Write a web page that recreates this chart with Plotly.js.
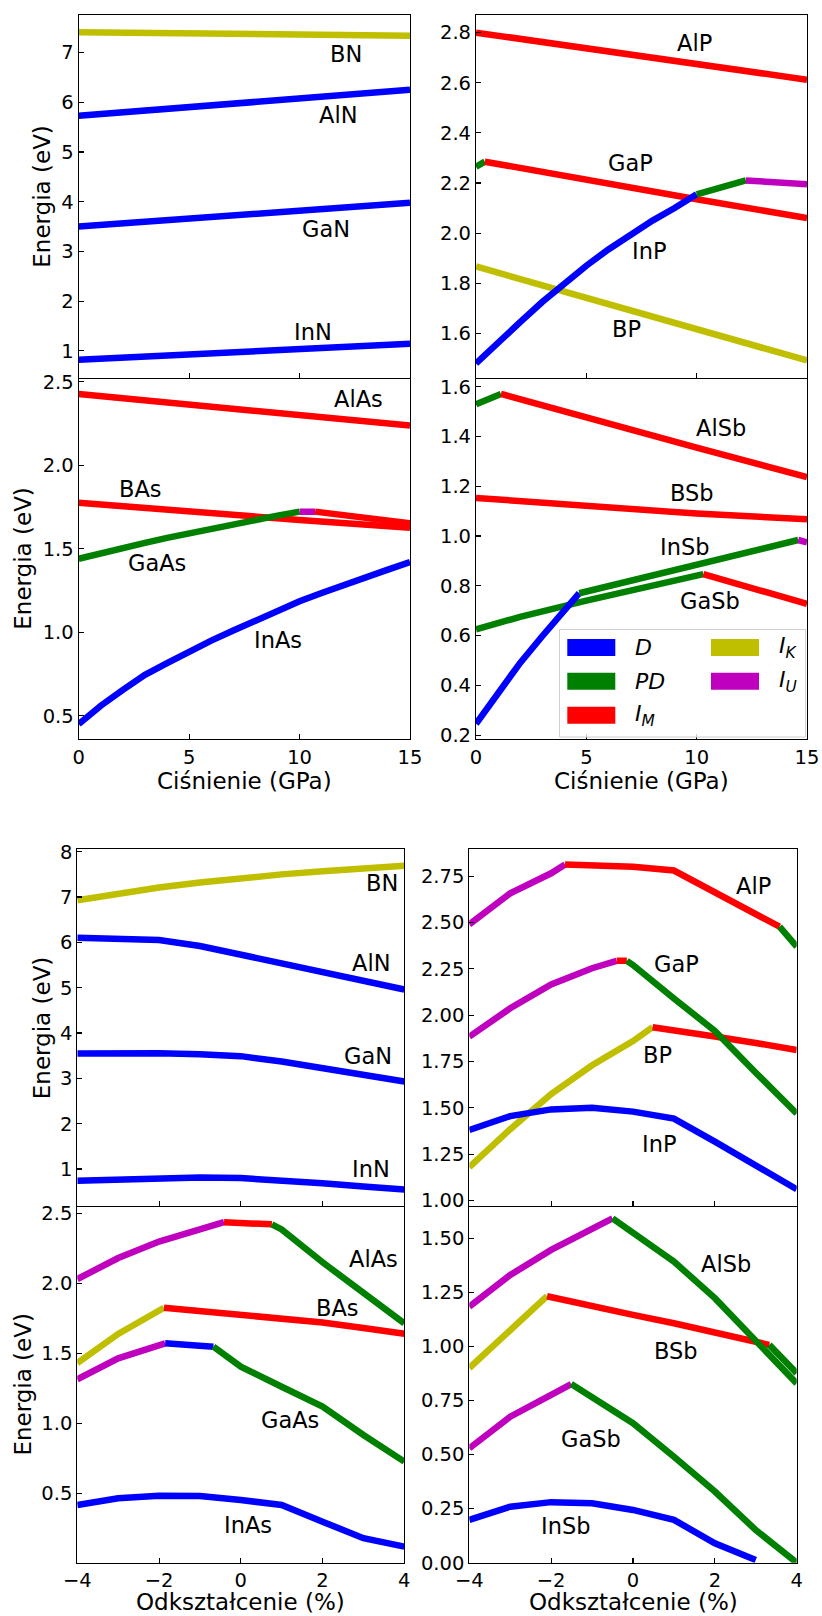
<!DOCTYPE html>
<html><head><meta charset="utf-8">
<script src="https://cdn.plot.ly/plotly-3.0.1.min.js"></script>
<style>html,body{margin:0;padding:0;background:#fff}#chart{width:822px;height:1616px}</style>
</head><body><div id="chart"></div>
<script>
// ---------- band-type colours ----------
const COLORS = {D:'#0000ff', PD:'#008000', M:'#ff0000', K:'#bfbf00', U:'#bf00bf'};

// ---------- Pressure (GPa) : nitrides ----------
const pN_BN_x  = [0,5,10,15];   const pN_BN_y  = [7.41,7.39,7.365,7.34]; const pN_BN_t  = ['K','K','K'];
const pN_AlN_x = [0,5,10,15];   const pN_AlN_y = [5.73,5.91,6.08,6.25];  const pN_AlN_t = ['D','D','D'];
const pN_GaN_x = [0,5,10,15];   const pN_GaN_y = [3.50,3.66,3.82,3.98];  const pN_GaN_t = ['D','D','D'];
const pN_InN_x = [0,5,10,15];   const pN_InN_y = [0.82,0.93,1.04,1.14];  const pN_InN_t = ['D','D','D'];

// ---------- Pressure : phosphides ----------
const pP_BP_x  = [0,5,10,15];   const pP_BP_y  = [1.867,1.742,1.617,1.492]; const pP_BP_t = ['K','K','K'];
const pP_AlP_x = [0,5,10,15];   const pP_AlP_y = [2.80,2.737,2.674,2.612];  const pP_AlP_t = ['M','M','M'];
const pP_GaP_x = [0,0.4,5,10,15]; const pP_GaP_y = [2.265,2.285,2.21,2.135,2.06]; const pP_GaP_t = ['PD','M','M','M'];
const pP_InP_x = [0,1,2,3,4,5,6,7,8,9,10,12.23,15];
const pP_InP_y = [1.48,1.565,1.645,1.725,1.80,1.87,1.935,1.995,2.05,2.10,2.155,2.21,2.195];
const pP_InP_t = ['D','D','D','D','D','D','D','D','D','D','PD','U'];

// ---------- Pressure : arsenides ----------
const pA_BAs_x  = [0,5,10,15];  const pA_BAs_y  = [1.775,1.72,1.672,1.625]; const pA_BAs_t = ['M','M','M'];
const pA_AlAs_x = [0,5,10,15];  const pA_AlAs_y = [2.426,2.363,2.30,2.237]; const pA_AlAs_t = ['M','M','M'];
const pA_GaAs_x = [0,1,2,3,4,5,6,7,8,9,10,10.7,12,15];
const pA_GaAs_y = [1.44,1.475,1.505,1.535,1.565,1.593,1.62,1.647,1.673,1.698,1.722,1.722,1.70,1.652];
const pA_GaAs_t = ['PD','PD','PD','PD','PD','PD','PD','PD','PD','PD','U','M','M'];
const pA_InAs_x = [0,1,2,3,4,5,6,7,8,9,10,11,12,13,14,15];
const pA_InAs_y = [0.45,0.56,0.655,0.745,0.815,0.885,0.95,1.01,1.07,1.13,1.185,1.235,1.285,1.33,1.375,1.42];
const pA_InAs_t = ['D','D','D','D','D','D','D','D','D','D','D','D','D','D','D'];

// ---------- Pressure : antimonides ----------
const pS_BSb_x  = [0,5,10,15];  const pS_BSb_y  = [1.153,1.122,1.09,1.067]; const pS_BSb_t = ['M','M','M'];
const pS_AlSb_x = [0,1.13,5,10,15]; const pS_AlSb_y = [1.529,1.571,1.475,1.355,1.237]; const pS_AlSb_t = ['PD','M','M','M'];
const pS_GaSb_x = [0,2,5,10.3,15]; const pS_GaSb_y = [0.625,0.675,0.74,0.847,0.727]; const pS_GaSb_t = ['PD','PD','PD','M'];
const pS_InSb_x = [0,1,2,3,4,4.68,14.6,15];
const pS_InSb_y = [0.245,0.37,0.49,0.597,0.695,0.77,0.984,0.975];
const pS_InSb_t = ['D','D','D','D','D','PD','U'];

// ---------- Strain (%) : nitrides ----------
const strain = [-4,-3,-2,-1,0,1,2,3,4];
const sN_BN_y  = [6.93,7.08,7.21,7.32,7.42,7.50,7.57,7.64,7.69];
const sN_AlN_y = [6.10,6.09,6.05,5.92,5.73,5.53,5.34,5.15,4.96];
const sN_GaN_y = [3.55,3.565,3.555,3.53,3.49,3.37,3.23,3.08,2.93];
const sN_InN_y = [0.74,0.775,0.80,0.81,0.80,0.755,0.685,0.615,0.55];
const sN_BN_t  = ['K','K','K','K','K','K','K','K'];
const sN_D_t   = ['D','D','D','D','D','D','D','D'];

// ---------- Strain : phosphides ----------
const sP_BP_x  = [-4,-3,-2,-1,0,0.48,1,2,3,4];
const sP_BP_y  = [1.18,1.385,1.575,1.73,1.86,1.935,1.92,1.885,1.85,1.812];
const sP_BP_t  = ['K','K','K','K','K','M','M','M','M'];
const sP_AlP_x = [-4,-3,-2,-1.66,-1,0,1,2,3,3.58,4];
const sP_AlP_y = [2.49,2.657,2.765,2.813,2.81,2.80,2.78,2.66,2.545,2.477,2.369];
const sP_AlP_t = ['U','U','U','M','M','M','M','M','M','PD'];
const sP_GaP_x = [-4,-3,-2,-1,-0.4,-0.15,0,1,2,3,4];
const sP_GaP_y = [1.884,2.037,2.166,2.253,2.293,2.293,2.27,2.09,1.915,1.69,1.47];
const sP_GaP_t = ['U','U','U','U','M','PD','PD','PD','PD','PD'];
const sP_InP_y = [1.381,1.456,1.492,1.501,1.48,1.442,1.318,1.192,1.061];

// ---------- Strain : arsenides ----------
const sA_BAs_x  = [-4,-3,-1.88,-1,0,1,2,3,4];
const sA_BAs_y  = [1.43,1.638,1.825,1.80,1.777,1.75,1.72,1.68,1.64];
const sA_BAs_t  = ['K','K','M','M','M','M','M','M'];
const sA_AlAs_x = [-4,-3,-2,-1,-0.41,0,0.76,1,2,3,4];
const sA_AlAs_y = [2.03,2.18,2.298,2.385,2.436,2.432,2.421,2.385,2.15,1.93,1.714];
const sA_AlAs_t = ['U','U','U','U','M','M','PD','PD','PD','PD'];
const sA_GaAs_x = [-4,-3,-1.85,-1,-0.67,0,1,2,3,4];
const sA_GaAs_y = [1.314,1.464,1.571,1.557,1.547,1.404,1.261,1.119,0.916,0.726];
const sA_GaAs_t = ['U','U','D','D','PD','PD','PD','PD','PD'];
const sA_InAs_y = [0.416,0.464,0.483,0.48,0.452,0.416,0.297,0.179,0.119];

// ---------- Strain : antimonides ----------
const sS_BSb_x  = [-4,-3,-2.1,-1,0,1,2,3,3.33,4];
const sS_BSb_y  = [0.90,1.077,1.232,1.184,1.146,1.107,1.064,1.018,1.007,0.876];
const sS_BSb_t  = ['K','K','M','M','M','M','M','M','PD'];
const sS_AlSb_x = [-4,-3,-2,-1,-0.5,1,2,3,4];
const sS_AlSb_y = [1.184,1.33,1.446,1.546,1.592,1.392,1.223,1.026,0.829];
const sS_AlSb_t = ['U','U','U','U','PD','PD','PD','PD'];
const sS_GaSb_x = [-4,-3,-2,-1.51,0,1,2,3,4];
const sS_GaSb_y = [0.529,0.675,0.776,0.826,0.645,0.49,0.329,0.151,0.0];
const sS_GaSb_t = ['U','U','U','PD','PD','PD','PD','PD'];
const sS_InSb_x = [-4,-3,-2,-1,0,1,2,3];
const sS_InSb_y = [0.198,0.259,0.28,0.275,0.244,0.198,0.09,0.013];
const sS_InSb_t = ['D','D','D','D','D','D','D'];

// ---------- labels ----------
const legendNames = ['D','PD','M','K','U'];
const legendText  = {D:'<i>D</i>', PD:'<i>PD</i>', M:'<i>I</i><sub><i>M</i></sub>', K:'<i>I</i><sub><i>K</i></sub>', U:'<i>I</i><sub><i>U</i></sub>'};
const yTitle = 'Energia (eV)';
const xTitleP = 'Ciśnienie (GPa)';
const xTitleS = 'Odkształcenie (%)';

// label positions (data coordinates)
const labels = [
  [1,'BN',12.1,6.99],[1,'AlN',11.75,5.77],[1,'GaN',11.18,3.48],[1,'InN',10.62,1.39],
  [2,'AlP',9.89,2.764],[2,'GaP',7.02,2.285],[2,'InP',7.85,1.933],[2,'BP',6.8,1.62],
  [3,'AlAs',12.66,2.40],[3,'BAs',2.78,1.862],[3,'GaAs',3.53,1.422],[3,'InAs',9.04,0.957],
  [4,'AlSb',11.1,1.44],[4,'BSb',9.79,1.178],[4,'InSb',9.47,0.96],[4,'GaSb',10.6,0.743],
  [5,'BN',3.45,7.34],[5,'AlN',3.19,5.57],[5,'GaN',3.12,3.51],[5,'InN',3.19,1.02],
  [6,'AlP',2.94,2.702],[6,'GaP',1.07,2.279],[6,'BP',0.6,1.789],[6,'InP',0.64,1.31],
  [7,'AlAs',3.24,2.179],[7,'BAs',2.37,1.833],[7,'GaAs',1.2,1.029],[7,'InAs',0.18,0.279],
  [8,'AlSb',2.27,1.384],[8,'BSb',1.05,0.984],[8,'GaSb',-1.03,0.575],[8,'InSb',-1.64,0.175]
];

// ---------- build traces ----------
const traces = [];
function addCurve(p, x, y, t){
  let s = 0;
  for (let i = 1; i <= t.length; i++){
    if (i === t.length || t[i] !== t[s]){
      traces.push({type:'scatter', mode:'lines', x:x.slice(s,i+1), y:y.slice(s,i+1),
        xaxis:'x'+p, yaxis:'y'+p, showlegend:false, hoverinfo:'skip',
        line:{color:COLORS[t[s]], width:6.5}});
      s = i;
    }
  }
}
addCurve(1,pN_BN_x,pN_BN_y,pN_BN_t); addCurve(1,pN_AlN_x,pN_AlN_y,pN_AlN_t);
addCurve(1,pN_GaN_x,pN_GaN_y,pN_GaN_t); addCurve(1,pN_InN_x,pN_InN_y,pN_InN_t);
addCurve(2,pP_BP_x,pP_BP_y,pP_BP_t); addCurve(2,pP_AlP_x,pP_AlP_y,pP_AlP_t);
addCurve(2,pP_GaP_x,pP_GaP_y,pP_GaP_t); addCurve(2,pP_InP_x,pP_InP_y,pP_InP_t);
addCurve(3,pA_BAs_x,pA_BAs_y,pA_BAs_t); addCurve(3,pA_AlAs_x,pA_AlAs_y,pA_AlAs_t);
addCurve(3,pA_GaAs_x,pA_GaAs_y,pA_GaAs_t); addCurve(3,pA_InAs_x,pA_InAs_y,pA_InAs_t);
addCurve(4,pS_BSb_x,pS_BSb_y,pS_BSb_t); addCurve(4,pS_AlSb_x,pS_AlSb_y,pS_AlSb_t);
addCurve(4,pS_GaSb_x,pS_GaSb_y,pS_GaSb_t); addCurve(4,pS_InSb_x,pS_InSb_y,pS_InSb_t);
addCurve(5,strain,sN_BN_y,sN_BN_t); addCurve(5,strain,sN_AlN_y,sN_D_t);
addCurve(5,strain,sN_GaN_y,sN_D_t); addCurve(5,strain,sN_InN_y,sN_D_t);
addCurve(6,sP_BP_x,sP_BP_y,sP_BP_t); addCurve(6,sP_AlP_x,sP_AlP_y,sP_AlP_t);
addCurve(6,sP_GaP_x,sP_GaP_y,sP_GaP_t); addCurve(6,strain,sP_InP_y,sN_D_t);
addCurve(7,sA_BAs_x,sA_BAs_y,sA_BAs_t); addCurve(7,sA_AlAs_x,sA_AlAs_y,sA_AlAs_t);
addCurve(7,sA_GaAs_x,sA_GaAs_y,sA_GaAs_t); addCurve(7,strain,sA_InAs_y,sN_D_t);
addCurve(8,sS_BSb_x,sS_BSb_y,sS_BSb_t); addCurve(8,sS_AlSb_x,sS_AlSb_y,sS_AlSb_t);
addCurve(8,sS_GaSb_x,sS_GaSb_y,sS_GaSb_t); addCurve(8,sS_InSb_x,sS_InSb_y,sS_InSb_t);

// ---------- layout ----------
const W = 822, H = 1616;
const PX = x => x / W, PY = y => 1 - y / H;
const FONT = 'DejaVu Sans, Liberation Sans, sans-serif';

const xDomPx = {1:[78.7,410],2:[476,807],3:[78.7,410],4:[476,807],5:[77.3,404.3],6:[469.3,796.7],7:[77.3,404.3],8:[469.3,796.7]};
const yDomPx = {1:[15.3,377.5],2:[15.3,377.5],3:[377.5,739.3],4:[377.5,739.3],5:[849,1206],6:[849,1206],7:[1206,1562.7],8:[1206,1562.7]};
const yRanges = {1:[0.463,7.75],2:[1.424,2.869],3:[0.359,2.525],4:[0.183,1.637],5:[0.184,8.06],6:[0.971,2.896],7:[0.004,2.552],8:[0,1.649]};
const yDtick  = {1:1,2:0.2,3:0.5,4:0.2,5:1,6:0.25,7:0.5,8:0.25};
const yFormat = {1:'d',2:'.1f',3:'.1f',4:'.1f',5:'d',6:'.2f',7:'.1f',8:'.2f'};

const layout = {width:W, height:H, margin:{l:0,r:0,t:0,b:0}, paper_bgcolor:'#fff', plot_bgcolor:'rgba(0,0,0,0)',
  showlegend:false, font:{family:FONT, color:'#000', size:20}, annotations:[], shapes:[]};

const axBase = {showline:true, linecolor:'#000', linewidth:1.1, mirror:true, ticks:'inside', ticklen:5,
  tickwidth:1.1, tickcolor:'#000', showgrid:false, zeroline:false, fixedrange:true,
  tickfont:{family:FONT, size:19.5, color:'#000'}};

for (let p = 1; p <= 8; p++){
  const pressure = p <= 4;
  const bottom = (p === 3 || p === 4 || p === 7 || p === 8);
  layout['xaxis'+p] = Object.assign({}, axBase, {
    domain:[PX(xDomPx[p][0]), PX(xDomPx[p][1])], anchor:'y'+p,
    range: pressure ? [0,15] : [-4,4], tick0: pressure ? 0 : -4, dtick: pressure ? 5 : 2,
    showticklabels: bottom, mirror: !bottom });
  layout['yaxis'+p] = Object.assign({}, axBase, {
    domain:[PY(yDomPx[p][1]), PY(yDomPx[p][0])], anchor:'x'+p,
    range: yRanges[p], tick0:0, dtick:yDtick[p], tickformat:yFormat[p]});
}

// compound labels
labels.forEach(([p,txt,x,y]) => layout.annotations.push({xref:'x'+p, yref:'y'+p, x:x, y:y, text:txt,
  showarrow:false, xanchor:'center', yanchor:'middle', yshift:-1, font:{family:FONT, size:22.5, color:'#000'}}));

// axis titles
[[42.3,196.4],[23.3,558.4],[41.7,1027.5],[23.3,1384.3]].forEach(([x,y]) => layout.annotations.push({
  xref:'paper', yref:'paper', x:PX(x), y:PY(y), text:yTitle, textangle:-90, showarrow:false,
  xanchor:'center', yanchor:'middle', font:{family:FONT, size:23, color:'#000'}}));
[[244.3,781,xTitleP],[641.5,781,xTitleP],[240.8,1602,xTitleS],[633,1602,xTitleS]].forEach(([x,y,t]) => layout.annotations.push({
  xref:'paper', yref:'paper', x:PX(x), y:PY(y), text:t, showarrow:false,
  xanchor:'center', yanchor:'middle', font:{family:FONT, size:23, color:'#000'}}));

// legend (drawn in panel 4)
layout.shapes.push({type:'rect', xref:'paper', yref:'paper', x0:PX(559.5), x1:PX(805.5), y0:PY(737), y1:PY(629.5),
  line:{color:'#d0d0d0', width:1}, fillcolor:'rgba(255,255,255,0.8)', layer:'above'});
const legPos = {D:[567.3,647.5,633.3], PD:[567.3,681.3,633.3], M:[567.3,715.3,633.3], K:[711,647.5,777.3], U:[711,681.3,777.3]};
legendNames.forEach(k => {
  const [hx,hy,tx] = legPos[k];
  layout.shapes.push({type:'rect', xref:'paper', yref:'paper', x0:PX(hx), x1:PX(hx+48), y0:PY(hy+8.5), y1:PY(hy-8.5),
    line:{width:0}, fillcolor:COLORS[k], layer:'above'});
  layout.annotations.push({xref:'paper', yref:'paper', x:PX(tx), y:PY(hy), text:legendText[k], showarrow:false,
    xanchor:'left', yanchor:'middle', font:{family:FONT, size:22, color:'#000'}});
});

Plotly.newPlot('chart', traces, layout, {staticPlot:true, displayModeBar:false});
</script>
</body></html>
